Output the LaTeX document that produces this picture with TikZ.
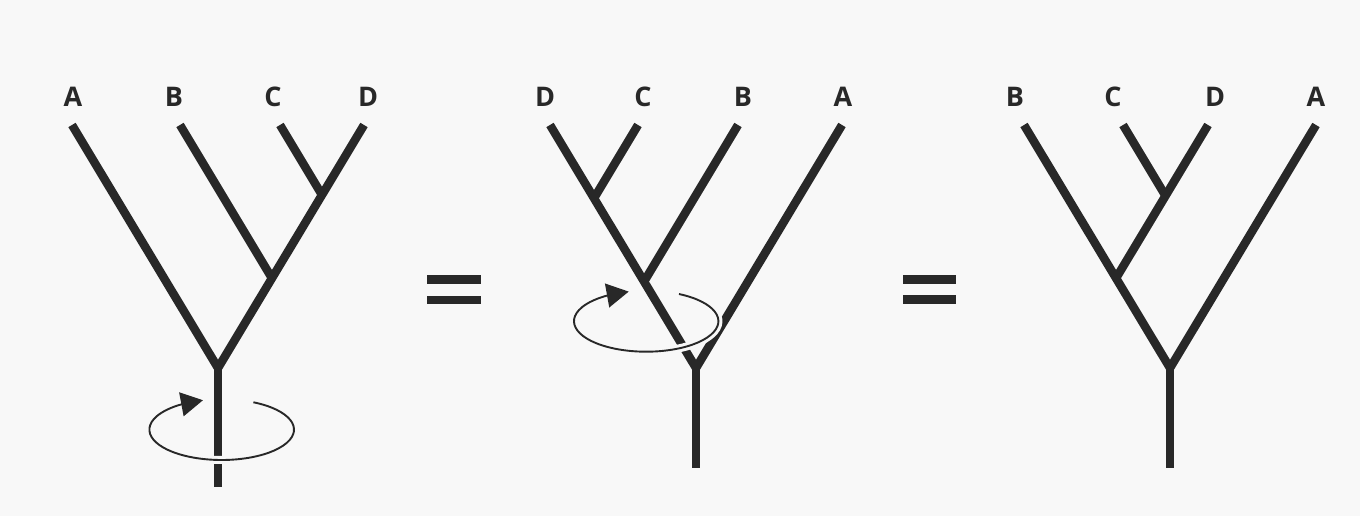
\documentclass[tikz,border=0pt]{standalone}
\usepackage{fontspec}
\setmainfont{Open Sans}
\usetikzlibrary{arrows.meta,bending,calc}
\definecolor{ink}{RGB}{40,40,40}
\definecolor{paper}{RGB}{248,248,248}
\tikzset{
  branch/.style={draw=ink,line width=8.5pt,line cap=butt,line join=miter,miter limit=20},
  eqbar/.style={draw=ink,line width=8.5pt,line cap=butt},
  turn/.style={draw=ink,line width=1.9pt,-{Triangle[length=22pt,width=24pt,flex]}},
  gapline/.style={draw=paper,line width=8pt},
  leaf/.style={font=\bfseries\fontsize{27}{27}\selectfont,text=ink,inner sep=0pt,anchor=base}
}
\begin{document}
\begin{tikzpicture}[x=1pt,y=1pt]
\fill[paper] (0,0) rectangle (1360,516);
\useasboundingbox (0,0) rectangle (1360,516);

% ---------- Tree 1 ----------
\coordinate (R1) at (218,148);
\coordinate (S1) at (218,29);
\coordinate (A1t) at (72,391);
\coordinate (D1t) at (364,391);
\coordinate (B1t) at (180,391);
\coordinate (B1j) at (272,237.7);
\coordinate (C1t) at (280,391);
\coordinate (C1j) at (322,321);
\path[branch] (A1t) -- (R1) -- (D1t);
\path[branch] (B1t) -- (B1j);
\path[branch] (C1t) -- (C1j);
\path[branch] (R1) -- (S1);
\node[leaf] (lA1) at (73,409) {A};
\node[leaf] (lB1) at (174,409) {B};
\node[leaf] (lC1) at (273,409) {C};
\node[leaf] (lD1) at (368,409) {D};
\coordinate (E1) at (221.7,86.4);
\path[gapline] ($(E1)+(-10:72.3 and 30.4)$) arc[start angle=-10,end angle=-170,x radius=72.3,y radius=30.4];
\path[turn] ($(E1)+(64:72.3 and 30.4)$) arc[start angle=64,end angle=-255,x radius=72.3,y radius=30.4];

% ---------- equals 1 ----------
\coordinate (q1a) at (427,236.5);
\coordinate (q1b) at (481,236.5);
\coordinate (q1c) at (427,216);
\coordinate (q1d) at (481,216);
\path[eqbar] (q1a) -- (q1b);
\path[eqbar] (q1c) -- (q1d);

% ---------- Tree 2 ----------
\coordinate (R2) at (696,148);
\coordinate (S2) at (696,48);
\coordinate (D2t) at (550,391);
\coordinate (A2t) at (842,391);
\coordinate (C2t) at (638,391);
\coordinate (C2j) at (594,317.7);
\coordinate (B2t) at (738,391);
\coordinate (B2j) at (644,234.3);
\path[branch] (D2t) -- (R2) -- (A2t);
\path[branch] (C2t) -- (C2j);
\path[branch] (B2t) -- (B2j);
\path[branch] (R2) -- (S2);
\node[leaf] (lD2) at (545,409) {D};
\node[leaf] (lC2) at (643,409) {C};
\node[leaf] (lB2) at (743,409) {B};
\node[leaf] (lA2) at (843,409) {A};
\coordinate (E2) at (646.2,194.8);
\path[gapline] ($(E2)+(15:72.2 and 30.5)$) arc[start angle=15,end angle=-170,x radius=72.2,y radius=30.5];
\path[turn] ($(E2)+(63:72.2 and 30.5)$) arc[start angle=63,end angle=-256,x radius=72.2,y radius=30.5];

% ---------- equals 2 ----------
\coordinate (q2a) at (903,236.5);
\coordinate (q2b) at (956,236.5);
\coordinate (q2c) at (903,216.5);
\coordinate (q2d) at (956,216.5);
\path[eqbar] (q2a) -- (q2b);
\path[eqbar] (q2c) -- (q2d);

% ---------- Tree 3 ----------
\coordinate (R3) at (1170,148);
\coordinate (S3) at (1170,48);
\coordinate (B3t) at (1024,391);
\coordinate (A3t) at (1316,391);
\coordinate (D3t) at (1208,391);
\coordinate (D3j) at (1116,237.7);
\coordinate (C3t) at (1123,391);
\coordinate (C3j) at (1165.5,320.2);
\path[branch] (B3t) -- (R3) -- (A3t);
\path[branch] (D3t) -- (D3j);
\path[branch] (C3t) -- (C3j);
\path[branch] (R3) -- (S3);
\node[leaf] (lB3) at (1015,409) {B};
\node[leaf] (lC3) at (1113,409) {C};
\node[leaf] (lD3) at (1215,409) {D};
\node[leaf] (lA3) at (1316,409) {A};
\end{tikzpicture}
\end{document}
